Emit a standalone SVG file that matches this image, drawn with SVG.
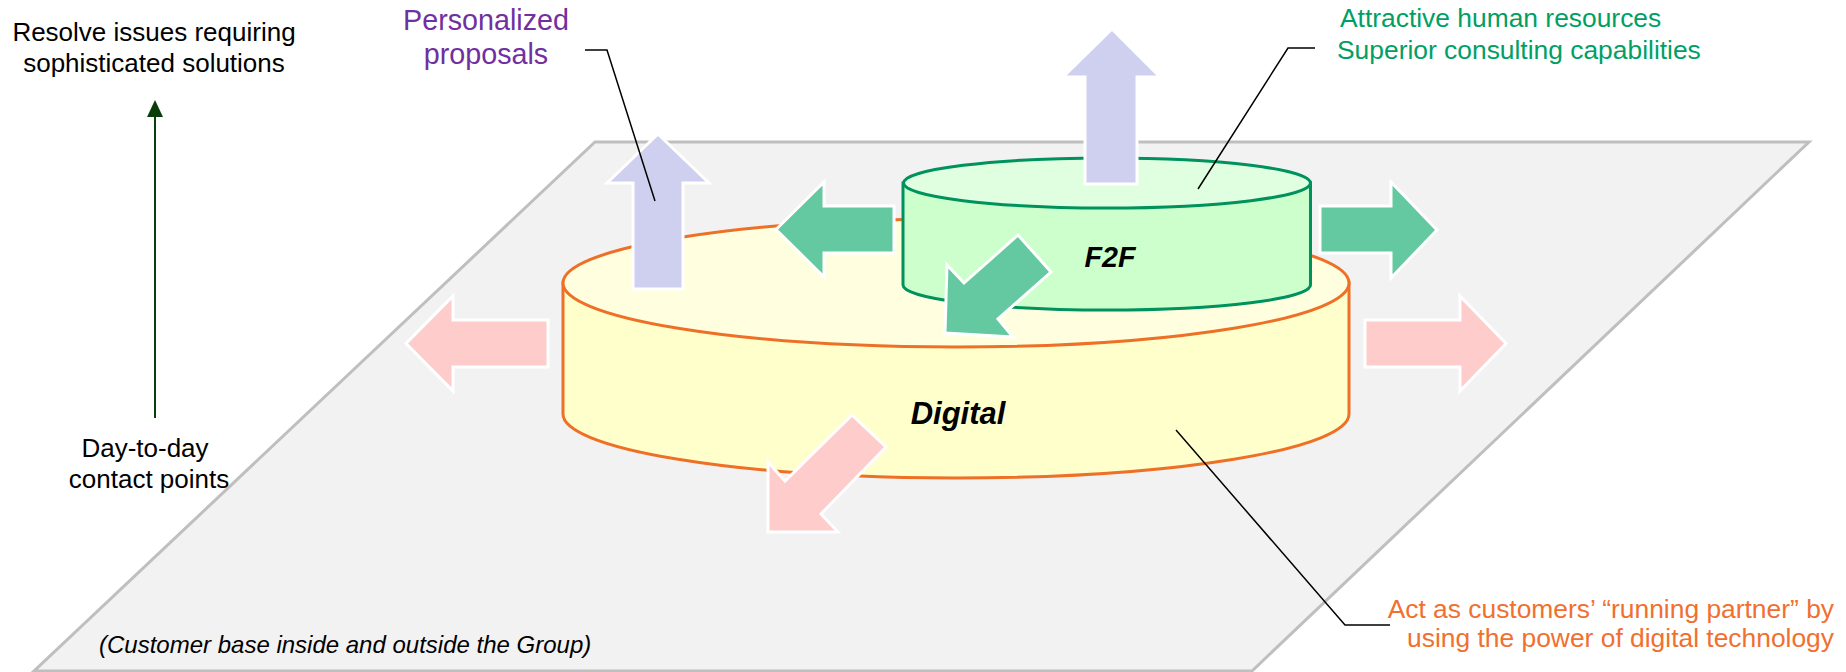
<svg xmlns="http://www.w3.org/2000/svg" width="1846" height="672" viewBox="0 0 1846 672">
<style>
text{font-family:"Liberation Sans",Arial,sans-serif}
.blk{font-size:26px;fill:#000;text-anchor:middle}
.pur{font-size:28.7px;fill:#7030a0;text-anchor:middle}
.grn{font-size:26.4px;fill:#00a065}
.org{font-size:26.4px;fill:#f07030;text-anchor:end}
.ital{font-size:24px;font-style:italic;fill:#000}
.lbl{font-weight:bold;font-style:italic;fill:#000;text-anchor:middle}
.arr{stroke:#fff;stroke-width:3;stroke-linejoin:miter}
.lav{fill:#cfcfef}
.gar{fill:#64c8a0}
.pnk{fill:#ffcccc}
.lead{fill:none;stroke:#000;stroke-width:1.5}
</style>
<g id="platform">
<polygon points="595,142 1809,142 1252,671 34,671" fill="#f2f2f2" stroke="#bfbfbf" stroke-width="3"/>
<text class="ital" x="99" y="653">(Customer base inside and outside the Group)</text>
</g>
<g id="axis">
<line x1="155" y1="418" x2="155" y2="114" stroke="#0a3d0a" stroke-width="2"/>
<polygon points="155,100 163,117 147,117" fill="#0a3d0a"/>
<text class="blk" x="154" y="41">Resolve issues requiring</text>
<text class="blk" x="154" y="72">sophisticated solutions</text>
<text class="blk" x="145" y="457">Day-to-day</text>
<text class="blk" x="149" y="488">contact points</text>
</g>
<g id="pink-side-arrows">
<polygon class="arr pnk" points="406,343.5 453,296 453,320 548,320 548,367 453,367 453,391"/>
<polygon class="arr pnk" points="1365,320 1460,320 1460,296 1506,343.5 1460,391 1460,367 1365,367"/>
</g>
<g id="digital">
<path d="M563,283 V414 A393,64 0 0 0 1349,414 V283 Z" fill="#ffffcc" stroke="#ee7027" stroke-width="3"/>
<ellipse cx="956" cy="283" rx="393" ry="64" fill="#ffffe0" stroke="#ee7027" stroke-width="3"/>
<text class="lbl" x="958" y="424" font-size="31">Digital</text>
</g>
<g id="lavender-arrow-left">
<polygon class="arr lav" points="658,134 709,183 683,183 683,289 633,289 633,183 607,183"/>
</g>
<g id="green-side-arrows">
<polygon class="arr gar" points="776,229.5 824,182 824,206 894,206 894,253 824,253 824,277"/>
<polygon class="arr gar" points="1320,206 1391,206 1391,182 1437,230 1391,278 1391,253 1320,253"/>
</g>
<g id="f2f">
<path d="M903,183 V285 A203.5,25 0 0 0 1310.5,285 V183 Z" fill="#ccffcc" stroke="#00925c" stroke-width="3"/>
<ellipse cx="1107" cy="183" rx="203.5" ry="25" fill="#e0ffe0" stroke="#00925c" stroke-width="3"/>
<text class="lbl" x="1110" y="267" font-size="28.7">F2F</text>
</g>
<g id="lavender-arrow-top">
<polygon class="arr lav" points="1112,29 1160,77 1137,77 1137,184 1085,184 1085,77 1063,77"/>
</g>
<g id="diagonal-arrows">
<polygon class="arr gar" points="945,333 947,265 964,283 1018,235 1051,272 998,319 1013,337"/>
<polygon class="arr pnk" points="768,532 768,462 785,481 852,415 886,447 821,514 838,532"/>
</g>
<g id="connectors">
<polyline class="lead" points="585,50 607,50 655,201"/>
<polyline class="lead" points="1315,48 1288,48 1198,189"/>
<polyline class="lead" points="1176,430 1345,625 1390,625"/>
</g>
<g id="label-personalized">
<text class="pur" x="486" y="29.5">Personalized</text>
<text class="pur" x="486" y="64">proposals</text>
</g>
<g id="label-f2f">
<text class="grn" x="1340" y="27">Attractive human resources</text>
<text class="grn" x="1337" y="59">Superior consulting capabilities</text>
</g>
<g id="label-digital">
<text class="org" x="1834" y="618">Act as customers’ “running partner” by</text>
<text class="org" x="1834" y="647">using the power of digital technology</text>
</g>
</svg>
